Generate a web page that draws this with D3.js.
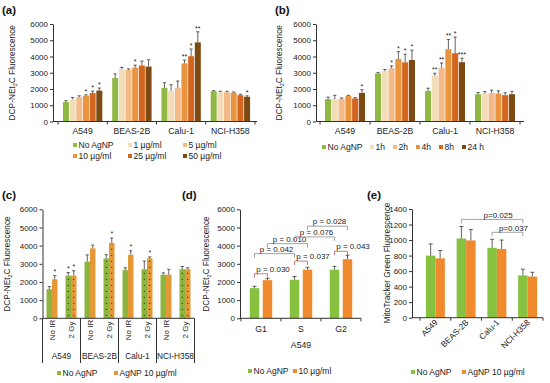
<!DOCTYPE html>
<html>
<head>
<meta charset="utf-8">
<script src="https://cdn.jsdelivr.net/npm/d3@7"></script>
<style>
  body { margin: 0; background: #fff; }
</style>
</head>
<body>
<div id="fig"></div>
<script>
// ---- data ----
const cellLines = ["A549", "BEAS-2B", "Calu-1", "NCI-H358"];

// (a) dose
const doseLabels = ["No AgNP", "1 µg/ml", "5 µg/ml", "10 µg/ml", "25 µg/ml", "50 µg/ml"];
const doseMean = [
  [1200, 1360, 1500, 1580, 1750, 1900],
  [2680, 3230, 3180, 3320, 3450, 3380],
  [2060, 1880, 2060, 3580, 4020, 4870],
  [1860, 1800, 1800, 1770, 1620, 1520]
];
const doseErr = [
  [80, 120, 80, 60, 120, 160],
  [250, 100, 60, 150, 270, 420],
  [330, 380, 430, 200, 440, 650],
  [40, 60, 60, 50, 60, 60]
];
const doseSig = [
  ["", "", "", "*", "*", "*"],
  ["", "", "", "*", "", ""],
  ["", "", "", "**", "*", "**"],
  ["", "", "", "", "", "*"]
];

// (b) time
const timeLabels = ["No AgNP", "1h", "2h", "4h", "8h", "24 h"];
const timeMean = [
  [1380, 1380, 1400, 1580, 1420, 1760],
  [2960, 3100, 3270, 3850, 3640, 3790],
  [1880, 2800, 3300, 4450, 4200, 3650],
  [1680, 1720, 1760, 1720, 1620, 1680]
];
const timeErr = [
  [120, 230, 50, 30, 50, 200],
  [60, 100, 150, 450, 500, 600],
  [170, 170, 300, 600, 1000, 250],
  [100, 120, 170, 170, 150, 180]
];
const timeSig = [
  ["", "", "", "", "", "*"],
  ["", "", "*", "*", "*", "*"],
  ["", "**", "**", "**", "*", "***"],
  ["", "", "", "", "", ""]
];

// (c) irradiation: cell line -> [No IR, 2 Gy] -> [No AgNP, AgNP]
const irLevels = ["No IR", "2 Gy"];
const irSeries = ["No AgNP", "AgNP 10 µg/ml"];
const irMean = [
  [[1600, 2150], [2350, 2350]],
  [[3120, 3850], [3300, 4150]],
  [[2650, 3500], [2700, 3300]],
  [[2400, 2400], [2700, 2700]]
];
const irErr = [
  [[150, 200], [170, 270]],
  [[370, 180], [200, 270]],
  [[130, 220], [450, 80]],
  [[100, 300], [150, 80]]
];
const irSig = [
  [["", "*"], ["*", "*"]],
  [["", ""], ["", "*"]],
  [["", "*"], ["", "*"]],
  [["", ""], ["", ""]]
];

// (d) cell cycle, A549
const phases = ["G1", "S", "G2"];
const phaseSeries = ["No AgNP", "10 µg/ml"];
const phaseMean = [[1660, 2100], [2120, 2680], [2680, 3250]];
const phaseErr = [[100, 100], [180, 130], [180, 220]];
const phaseP = [
  { a: [0, 0], b: [0, 1], y: 2450, p: "p = 0.030" },
  { a: [0, 0], b: [1, 0], y: 3560, p: "p = 0.042" },
  { a: [0, 1], b: [1, 1], y: 4110, p: "p = 0.010" },
  { a: [1, 0], b: [1, 1], y: 3150, p: "p = 0.037" },
  { a: [1, 0], b: [2, 0], y: 4480, p: "p = 0.076" },
  { a: [1, 1], b: [2, 1], y: 5070, p: "p = 0.028" },
  { a: [2, 0], b: [2, 1], y: 3690, p: "p = 0.043" }
];

// (e) MitoTracker
const mitoSeries = ["No AgNP", "AgNP 10 µg/ml"];
const mitoMean = [[800, 765], [1020, 995], [900, 885], [545, 530]];
const mitoErr = [[150, 100], [155, 140], [110, 115], [80, 55]];
const mitoP = [
  { a: 1, b: 3, y: 1266, p: "p=0.025" },
  { a: 2, b: 3, y: 1100, p: "p=0.037" }
];

// ---- styles ----
const FONT = "'Liberation Sans', Arial, sans-serif";
const axisCol = "#333";
const textCol = "#222";
const errCol = "#3a3a3a";
const sixColors = ["#8fb845", "#f3dcb8", "#f3b986", "#ea9440", "#d2661f", "#7e4a14"];
const greenC = "#8db43e", goldC = "#e39a36";
const greenD = "#86c23f", orangeD = "#ef8a2e";

const svg = d3.select("#fig").append("svg")
  .attr("width", 550).attr("height", 383)
  .attr("font-family", FONT);

function panelLabel(txt, x, y) {
  svg.append("text").attr("x", x).attr("y", y).text(txt)
    .attr("font-size", 11.5).attr("font-weight", "bold").attr("fill", "#111");
}

function yAxis(y, x, ticks) {
  const ax = svg.append("g").attr("transform", `translate(${x},0)`)
    .call(d3.axisLeft(y).tickValues(ticks).tickFormat(d3.format("d"))
      .tickSize(3).tickSizeOuter(0).tickPadding(2));
  ax.attr("font-family", FONT).attr("font-size", 8);
  ax.select(".domain").attr("stroke", axisCol);
  ax.selectAll(".tick line").attr("stroke", axisCol);
  ax.selectAll(".tick text").attr("fill", textCol);
  return ax;
}

function yTitle(x, yc, sub) {
  const t = svg.append("text")
    .attr("transform", `translate(${x},${yc}) rotate(-90)`)
    .attr("text-anchor", "middle").attr("font-size", 8.3).attr("fill", textCol);
  if (sub) {
    t.append("tspan").text("DCP-NEt");
    t.append("tspan").text("2").attr("font-size", 5.5).attr("dy", 2);
    t.append("tspan").text("C Fluorescence").attr("dy", -2);
  } else {
    t.text("MitoTracker Green Fluorescence");
  }
}

function errBar(x, yTop, yBase, cap) {
  svg.append("line").attr("x1", x).attr("x2", x).attr("y1", yBase).attr("y2", yTop)
    .attr("stroke", errCol).attr("stroke-width", 0.8);
  svg.append("line").attr("x1", x - cap).attr("x2", x + cap).attr("y1", yTop).attr("y2", yTop)
    .attr("stroke", errCol).attr("stroke-width", 0.8);
}

function star(x, yTop, s) {
  if (!s) return;
  svg.append("text").attr("x", x).attr("y", yTop + 1).attr("text-anchor", "middle")
    .attr("font-size", 7).attr("fill", textCol).text(s);
}

function legend(items, colors, xs, ys) {
  items.forEach((d, i) => {
    svg.append("rect").attr("x", xs[i]).attr("y", ys[i] - 2).attr("width", 4).attr("height", 4)
      .attr("fill", colors[i]);
    svg.append("text").attr("x", xs[i] + 5.5).attr("y", ys[i] + 3).text(d)
      .attr("font-size", 8.5).attr("fill", textCol);
  });
}

// ---- (a) and (b): six-bar groups ----
function sixPanel(p) {
  const y = d3.scaleLinear().domain([0, 6000]).range([p.y0, p.y1]);
  const x = d3.scaleBand().domain(cellLines).range(p.range).paddingInner(0.2).paddingOuter(0.1);
  const xi = d3.scaleBand().domain(d3.range(6)).range([0, x.bandwidth()]).paddingInner(0.1);
  yAxis(y, p.ax, d3.range(0, 6001, 1000));
  yTitle(p.title, (p.y0 + p.y1) / 2, true);

  cellLines.forEach((c, gi) => {
    p.mean[gi].forEach((v, si) => {
      const bx = x(c) + xi(si);
      svg.append("rect").attr("x", bx).attr("y", y(v))
        .attr("width", xi.bandwidth()).attr("height", p.y0 - y(v)).attr("fill", sixColors[si]);
      const top = y(v + p.err[gi][si]);
      errBar(bx + xi.bandwidth() / 2, top, y(v), 1.6);
      star(bx + xi.bandwidth() / 2, top - 2, p.sig[gi][si]);
    });
  });

  // category axis
  svg.append("line").attr("x1", p.ax).attr("x2", p.axEnd).attr("y1", p.y0).attr("y2", p.y0)
    .attr("stroke", axisCol);
  const step = x.step();
  d3.range(cellLines.length + 1).forEach(k => {
    const bx = p.range[0] + k * step;
    svg.append("line").attr("x1", bx).attr("x2", bx).attr("y1", p.y0).attr("y2", p.y0 + 3)
      .attr("stroke", axisCol);
  });
  svg.selectAll(null).data(cellLines).enter().append("text")
    .attr("x", d => x(d) + x.bandwidth() / 2).attr("y", p.y0 + 12)
    .attr("text-anchor", "middle").attr("font-size", 8.7).attr("fill", textCol).text(d => d);
}

panelLabel("(a)", 2, 14);
sixPanel({ ax: 53, axEnd: 257, range: [58, 255], y0: 121.5, y1: 24, title: 15,
  mean: doseMean, err: doseErr, sig: doseSig });
legend(doseLabels, sixColors, [73, 128, 183, 73, 128, 183], [145, 145, 145, 156, 156, 156]);

panelLabel("(b)", 275, 14);
sixPanel({ ax: 316, axEnd: 524, range: [320, 520], y0: 121.5, y1: 24, title: 282,
  mean: timeMean, err: timeErr, sig: timeSig });
legend(timeLabels, sixColors, [322, 370, 393, 416, 439, 462], [147, 147, 147, 147, 147, 147]);

// ---- (c) irradiation ----
panelLabel("(c)", 2, 199);
{
  const y = d3.scaleLinear().domain([0, 6000]).range([318.3, 209.3]);
  const subs = [];
  cellLines.forEach((c, gi) => irLevels.forEach((l, li) => subs.push({ c, gi, l, li })));
  const x = d3.scaleBand().domain(d3.range(subs.length)).range([42.5, 194.5]);
  const bw = 5.5;
  yAxis(y, 42.5, d3.range(0, 6001, 1000));
  yTitle(10, 264, true);
  const cols = [greenC, goldC];
  subs.forEach((s, k) => {
    const cx = x(k) + x.bandwidth() / 2;
    [0, 1].forEach(si => {
      const v = irMean[s.gi][s.li][si];
      const bx = cx - bw + si * bw;
      svg.append("rect").attr("x", bx).attr("y", y(v)).attr("width", bw)
        .attr("height", y(0) - y(v)).attr("fill", cols[si]);
      if (s.li === 1) {
        d3.range(y(0) - 3, y(v) + 1, -6).forEach(py => {
          svg.append("circle").attr("cx", bx + bw / 2).attr("cy", py).attr("r", 0.6).attr("fill", "#1a1a1a");
        });
      }
      const top = y(v + irErr[s.gi][s.li][si]);
      errBar(bx + bw / 2, top, y(v), 1.6);
      star(bx + bw / 2, top - 3, irSig[s.gi][s.li][si]);
    });
    svg.append("text").attr("transform", `translate(${cx},330) rotate(-90)`)
      .attr("dy", "0.35em").attr("text-anchor", "middle").attr("font-size", 8)
      .attr("fill", textCol).text(s.l);
  });
  svg.append("line").attr("x1", 42.5).attr("x2", 194.5).attr("y1", y(0)).attr("y2", y(0)).attr("stroke", axisCol);
  const gstep = x.step() * irLevels.length;
  d3.range(cellLines.length + 1).forEach(k => {
    const bx = 42.5 + k * gstep;
    svg.append("line").attr("x1", bx).attr("x2", bx).attr("y1", y(0)).attr("y2", 363).attr("stroke", axisCol);
  });
  cellLines.forEach((c, gi) => {
    svg.append("text").attr("x", 42.5 + (gi + 0.5) * gstep).attr("y", 359)
      .attr("text-anchor", "middle").attr("font-size", 8.3).attr("fill", textCol).text(c);
  });
  legend(irSeries, cols, [57, 114], [373, 373]);
}

// ---- (d) cell cycle ----
panelLabel("(d)", 182, 199);
{
  const y = d3.scaleLinear().domain([0, 6000]).range([318.3, 209.3]);
  const x = d3.scaleBand().domain(phases).range([241, 361]);
  const bw = 9.5, gap = 3.5;
  const barX = (pi, si) => x(phases[pi]) + x.bandwidth() / 2 + (si === 0 ? -gap / 2 - bw : gap / 2);
  const cols = [greenD, orangeD];
  yAxis(y, 240, d3.range(0, 6001, 1000));
  yTitle(209, 264, true);
  phases.forEach((ph, pi) => {
    [0, 1].forEach(si => {
      const v = phaseMean[pi][si];
      svg.append("rect").attr("x", barX(pi, si)).attr("y", y(v)).attr("width", bw)
        .attr("height", y(0) - y(v)).attr("fill", cols[si]);
      errBar(barX(pi, si) + bw / 2, y(v + phaseErr[pi][si]), y(v), 2);
    });
  });
  svg.append("line").attr("x1", 240).attr("x2", 361).attr("y1", y(0)).attr("y2", y(0)).attr("stroke", axisCol);
  d3.range(phases.length + 1).forEach(k => {
    const bx = 241 + k * x.step();
    svg.append("line").attr("x1", bx).attr("x2", bx).attr("y1", y(0)).attr("y2", y(0) + 3).attr("stroke", axisCol);
  });
  svg.selectAll(null).data(phases).enter().append("text")
    .attr("x", d => x(d) + x.bandwidth() / 2).attr("y", 332)
    .attr("text-anchor", "middle").attr("font-size", 8.7).attr("fill", textCol).text(d => d);
  svg.append("text").attr("x", 301).attr("y", 348).attr("text-anchor", "middle")
    .attr("font-size", 8.7).attr("fill", textCol).text("A549");

  phaseP.forEach(b => {
    const x1 = barX(b.a[0], b.a[1]) + bw / 2, x2 = barX(b.b[0], b.b[1]) + bw / 2;
    const yy = y(b.y);
    const short = b.a[0] === b.b[0];
    svg.append("path").attr("d", `M${x1},${yy + 4}V${yy}H${x2}V${yy + 4}`)
      .attr("fill", "none").attr("stroke", short ? "#b65a78" : "#8a8a8a").attr("stroke-width", 0.8);
    svg.append("text").attr("x", (x1 + x2) / 2 + (short ? 12 : 2)).attr("y", yy - 2)
      .attr("text-anchor", "middle").attr("font-size", 8).attr("fill", textCol).text(b.p);
  });
  legend(phaseSeries, cols, [248, 293], [371, 371]);
}

// ---- (e) MitoTracker ----
panelLabel("(e)", 367, 199);
{
  const y = d3.scaleLinear().domain([0, 1400]).range([317.7, 209]);
  const x = d3.scaleBand().domain(cellLines).range([420, 543]);
  const bw = 9.5;
  const barX = (gi, si) => x(cellLines[gi]) + x.bandwidth() / 2 - bw + si * bw;
  const cols = [greenD, orangeD];
  yAxis(y, 412, d3.range(0, 1401, 200));
  yTitle(390, 263, false);
  cellLines.forEach((c, gi) => {
    [0, 1].forEach(si => {
      const v = mitoMean[gi][si];
      svg.append("rect").attr("x", barX(gi, si)).attr("y", y(v)).attr("width", bw)
        .attr("height", y(0) - y(v)).attr("fill", cols[si]);
      errBar(barX(gi, si) + bw / 2, y(v + mitoErr[gi][si]), y(v), 2);
    });
  });
  svg.append("line").attr("x1", 412).attr("x2", 543).attr("y1", y(0)).attr("y2", y(0)).attr("stroke", axisCol);
  d3.range(cellLines.length + 1).forEach(k => {
    const bx = 420 + k * x.step();
    svg.append("line").attr("x1", bx).attr("x2", bx).attr("y1", y(0)).attr("y2", y(0) + 3).attr("stroke", axisCol);
  });
  cellLines.forEach(c => {
    svg.append("text")
      .attr("transform", `translate(${x(c) + x.bandwidth() / 2 + 3},323) rotate(-45)`)
      .attr("text-anchor", "end").attr("font-size", 8.3).attr("fill", textCol).text(c);
  });
  mitoP.forEach(b => {
    const x1 = barX(b.a, 0) + bw / 2, x2 = barX(b.b, 0) + bw / 2;
    const yy = y(b.y);
    svg.append("path").attr("d", `M${x1},${yy + 4}V${yy}H${x2}V${yy + 4}`)
      .attr("fill", "none").attr("stroke", "#8a8a8a").attr("stroke-width", 0.8);
    svg.append("text").attr("x", (x1 + x2) / 2 + 6).attr("y", yy - 1.5)
      .attr("text-anchor", "middle").attr("font-size", 8).attr("fill", textCol).text(b.p);
  });
  legend(mitoSeries, cols, [411, 462], [372, 372]);
}
</script>
</body>
</html>
